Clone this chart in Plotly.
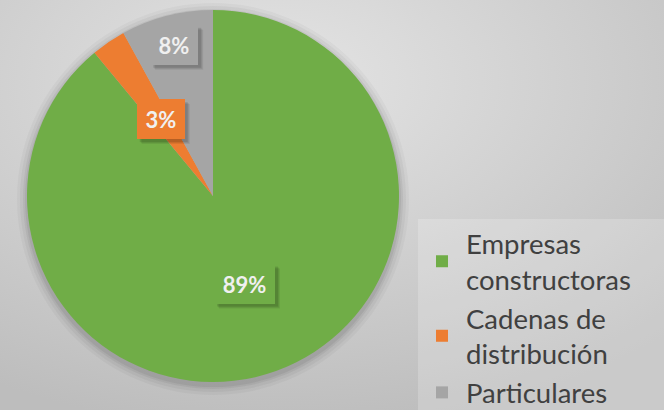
import math
import plotly.graph_objects as go

# ---- data ----
categories = ["Empresas<br>constructoras", "Cadenas de<br>distribución", "Particulares"]
values = [89, 3, 8]
label_texts = ["89%", "3%", "8%"]
colors = ["#70ad47", "#ed7d31", "#a5a5a5"]

W, H = 664, 410
cx_px, cy_px, r_px = 213, 196, 186
label_radius = [0.5, 0.5, 0.84]
legend_left_px, legend_top_px = 418, 219

fig = go.Figure(go.Pie(
    labels=categories,
    values=values,
    sort=False,
    direction="clockwise",
    rotation=0,
    textinfo="none",
    hoverinfo="label+percent",
    marker=dict(colors=colors, line=dict(width=0)),
    domain=dict(x=[(cx_px - r_px) / W, (cx_px + r_px) / W],
                y=[1 - (cy_px + r_px) / H, 1 - (cy_px - r_px) / H]),
))

# background radial gradient
svg = ("data:image/svg+xml;utf8,<svg xmlns='http://www.w3.org/2000/svg' width='664' height='410'>"
       "<defs><radialGradient id='g' cx='0.42' cy='0.2' r='0.85'>"
       "<stop offset='0' stop-color='%23e4e4e4'/><stop offset='1' stop-color='%23bdbdbd'/>"
       "</radialGradient></defs><rect width='664' height='410' fill='url(%23g)'/></svg>")
images = [dict(source=svg, xref="paper", yref="paper", x=0, y=1, sizex=1, sizey=1,
               xanchor="left", yanchor="top", sizing="stretch", layer="below")]

shapes = []
# soft pie shadow
for grow, op in [(10, 0.03), (7, 0.04), (4, 0.05), (2, 0.06)]:
    rr = r_px + grow
    shapes.append(dict(type="circle", xref="paper", yref="paper", layer="below",
                       x0=(cx_px - rr) / W, x1=(cx_px + rr) / W,
                       y0=1 - (cy_px + 3 + rr) / H, y1=1 - (cy_px + 3 - rr) / H,
                       fillcolor=f"rgba(0,0,0,{op})", line=dict(width=0)))
# legend panel
shapes.append(dict(type="rect", xref="paper", yref="paper", layer="below",
                   x0=legend_left_px / W, x1=1, y0=0, y1=1 - legend_top_px / H,
                   fillcolor="rgba(255,255,255,0.2)", line=dict(width=0)))

# data labels computed from slice mid-angles
annotations = []
total = sum(values)
cum = 0
pad = 6
for v, t, c, lr in zip(values, label_texts, colors, label_radius):
    mid = (cum + v / 2) / total * 2 * math.pi
    cum += v
    px = cx_px + lr * r_px * math.sin(mid)
    py = cy_px - lr * r_px * math.cos(mid)
    bw = 13 * len(t) + 10
    bh = 28
    hw, hh = bw / 2 + pad, bh / 2 + pad
    for sh, op in [(5, 0.07), (4, 0.08), (3, 0.1)]:
        shapes.append(dict(type="rect", xref="paper", yref="paper", layer="above",
                           x0=(px - hw + sh) / W, x1=(px + hw + sh) / W,
                           y0=1 - (py + hh + sh) / H, y1=1 - (py - hh + sh) / H,
                           fillcolor=f"rgba(0,0,0,{op})", line=dict(width=0)))
    annotations.append(dict(x=px / W, y=1 - py / H, xref="paper", yref="paper",
                            text="<b>" + t + "</b>", xanchor="center", yanchor="middle",
                            width=bw, height=bh, borderwidth=0, borderpad=pad,
                            showarrow=False, bgcolor=c,
                            font=dict(family="Lato", size=22, color="#f0f0f0")))

fig.update_layout(
    width=W, height=H,
    margin=dict(l=0, r=0, t=0, b=0, autoexpand=False),
    paper_bgcolor="#d4d4d4",
    plot_bgcolor="rgba(0,0,0,0)",
    images=images,
    shapes=shapes,
    annotations=annotations,
    showlegend=True,
    legend=dict(x=legend_left_px / W, y=1 - legend_top_px / H, xanchor="left", yanchor="top",
                bgcolor="rgba(0,0,0,0)",
                font=dict(family="Lato", size=27.5, color="#404040"),
                itemwidth=38, tracegroupgap=0, maxheight=1),
)

fig.write_html("out.html",
               config={"displayModeBar": False},
               post_script="document.body.style.margin='0';document.body.style.padding='0';")
